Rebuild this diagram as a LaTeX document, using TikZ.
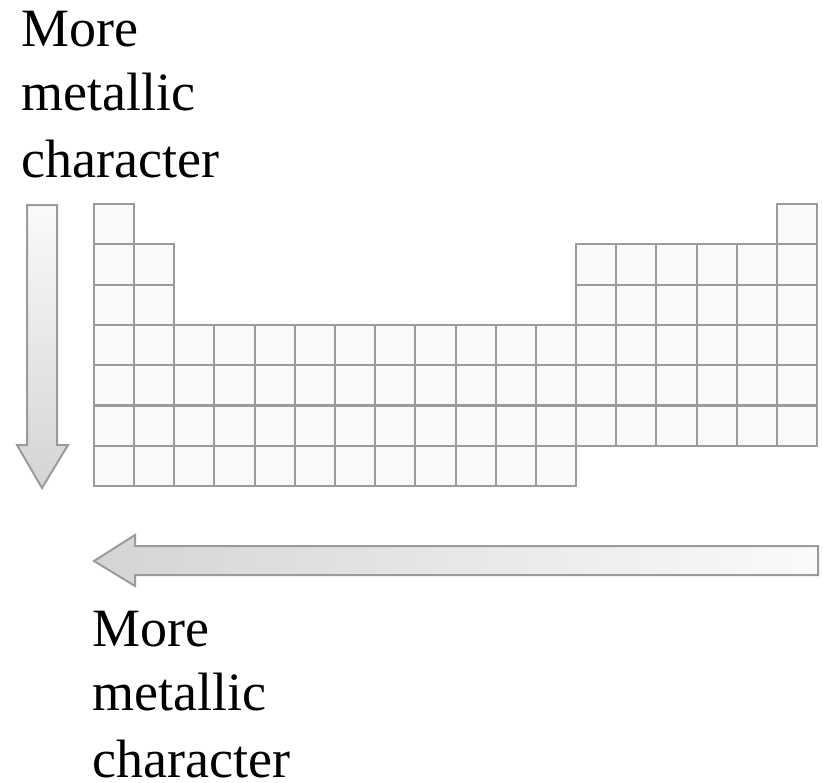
\documentclass[tikz,border=0pt]{standalone}
\usepackage{fontspec}
\setmainfont{Liberation Serif}
\usetikzlibrary{positioning}
\definecolor{cLine}{RGB}{155,155,155}
\definecolor{cCell}{RGB}{250,250,250}
\definecolor{cDark}{RGB}{212,212,212}
\definecolor{cLight}{RGB}{250,250,250}
\tikzset{
    cell/.style={rectangle, draw=cLine, fill=cCell, line width=1.5pt, minimum size=30.15pt, inner sep=0pt},
    bigarrow/.style={draw=cLine, line width=1.5pt, line join=miter},
    label/.style={anchor=base west, inner sep=0pt, font=\fontsize{40.5pt}{49.5pt}\selectfont},
}
\begin{document}
\begin{tikzpicture}[x=0.75pt, y=-0.75pt]
        \useasboundingbox (0,0) rectangle (823,782);
        % table of elements
        \foreach \r/\cols in {1/{1,18}, 2/{1,2,13,14,15,16,17,18}, 3/{1,2,13,14,15,16,17,18},
                4/{1,...,18}, 5/{1,...,18}, 6/{1,...,18}, 7/{1,...,12}}{
            \foreach \c in \cols{
                \node[cell] (c\r-\c) at ({94+(\c-0.5)*40.17},{204+(\r-0.5)*40.29}) {};
            }
        }
        % down the groups
        \shadedraw[bigarrow, top color=cLight, bottom color=cDark]
            (27,205) -- (57,205) -- (57,445) -- (68,445) -- (42,488) -- (17,445) -- (27,445) -- cycle;
        % across the periods
        \shadedraw[bigarrow, left color=cDark, right color=cLight]
            (818,546) -- (818,575) -- (135,575) -- (135,586) -- (94,561) -- (135,535) -- (135,546) -- cycle;
        % labels
        \node[label] (top1) at (21,46) {More};
        \node[label] (top2) at (21,110) {metallic};
        \node[label] (top3) at (21,177) {character};
        \node[label] (bot1) at (92,646) {More};
        \node[label] (bot2) at (92,710) {metallic};
        \node[label] (bot3) at (92,777) {character};
    \end{tikzpicture}
\end{document}
